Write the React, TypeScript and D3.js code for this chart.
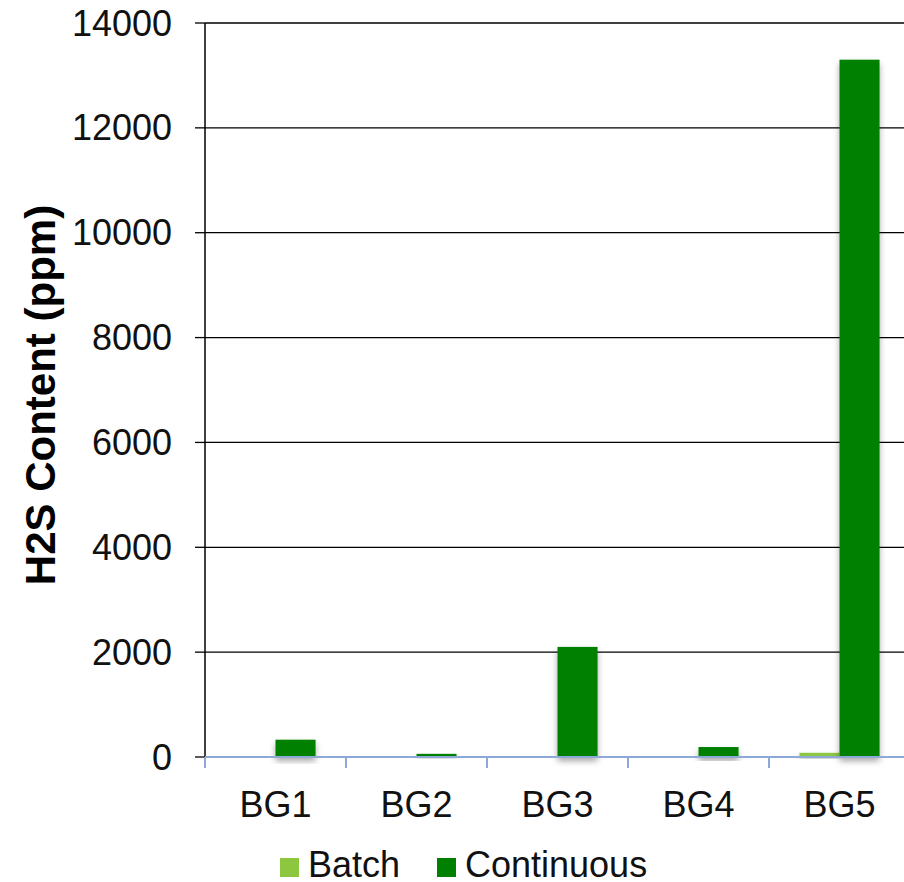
import * as d3 from "d3";

const categories = ["BG1", "BG2", "BG3", "BG4", "BG5"];
const seriesNames = ["Batch", "Continuous"];
const batchValues = [0, 0, 0, 0, 80];
const continuousValues = [330, 60, 2100, 190, 13300];
const yTicks = [0, 2000, 4000, 6000, 8000, 10000, 12000, 14000];
const colors = ["#8DC63F", "#008000"];

const W = 904;
const H = 882;

const App = () => {
  // plot area
  const left = 205;
  const right = 910;
  const top = 23;
  const bottom = 757;

  const y = d3.scaleLinear().domain([0, 14000]).range([bottom, top]);
  const x0 = d3.scaleBand().domain(categories).range([left, right]);
  const x1 = d3
    .scaleBand()
    .domain(seriesNames)
    .range([0, x0.bandwidth()])
    .paddingOuter(0.76);

  const series = [batchValues, continuousValues];
  const font = "'Liberation Sans', Arial, sans-serif";

  return (
    <svg
      width={W}
      height={H}
      style={{ position: "fixed", left: 0, top: 0, background: "#fff" }}
    >
      <defs>
        <filter id="shadow" x="-20%" y="-20%" width="140%" height="160%">
          <feDropShadow dx="0" dy="4" stdDeviation="3" floodColor="#000" floodOpacity="0.35" />
        </filter>
      </defs>

      {/* gridlines */}
      {yTicks.map((t) => (
        <line
          key={"g" + t}
          x1={left}
          x2={W}
          y1={y(t)}
          y2={y(t)}
          stroke="#000"
          strokeWidth={1.3}
        />
      ))}

      {/* bars */}
      {series.map((vals, si) =>
        categories.map((c, i) => {
          const v = vals[i];
          if (v <= 0) return null;
          return (
            <rect
              key={seriesNames[si] + c}
              x={(x0(c) as number) + (x1(seriesNames[si]) as number)}
              y={y(v)}
              width={x1.bandwidth()}
              height={bottom - y(v)}
              fill={colors[si]}
              filter="url(#shadow)"
            />
          );
        })
      )}

      {/* y axis */}
      <line x1={left} x2={left} y1={top} y2={bottom} stroke="#000" strokeWidth={1.5} />
      {yTicks.map((t) => (
        <g key={"t" + t}>
          <line x1={left - 10} x2={left} y1={y(t)} y2={y(t)} stroke="#000" strokeWidth={1.3} />
          <text
            x={172}
            y={y(t)}
            dy="0.35em"
            textAnchor="end"
            fontFamily={font}
            fontSize={36}
            fill="#111"
          >
            {t}
          </text>
        </g>
      ))}

      {/* x axis */}
      <line x1={left} x2={W} y1={bottom} y2={bottom} stroke="#8EA9D8" strokeWidth={2.2} />
      {categories.map((c) => (
        <line
          key={"xt" + c}
          x1={x0(c)}
          x2={x0(c)}
          y1={bottom}
          y2={bottom + 11}
          stroke="#8EA9D8"
          strokeWidth={2}
        />
      ))}
      {categories.map((c) => (
        <text
          key={"xl" + c}
          x={(x0(c) as number) + x0.bandwidth() / 2}
          y={817}
          textAnchor="middle"
          fontFamily={font}
          fontSize={36}
          fill="#111"
        >
          {c}
        </text>
      ))}

      {/* y title */}
      <text
        transform={`translate(55, 395) rotate(-90)`}
        textAnchor="middle"
        fontFamily={font}
        fontWeight="bold"
        fontSize={42}
        fill="#000"
      >
        H2S Content (ppm)
      </text>

      {/* legend */}
      {seriesNames.map((s, i) => {
        const lx = i === 0 ? 280 : 437;
        return (
          <g key={"lg" + s}>
            <rect x={lx} y={858} width={19} height={19} fill={colors[i]} />
            <text x={lx + 28} y={877} fontFamily={font} fontSize={36} fill="#111">
              {s}
            </text>
          </g>
        );
      })}
    </svg>
  );
};

export default App;
